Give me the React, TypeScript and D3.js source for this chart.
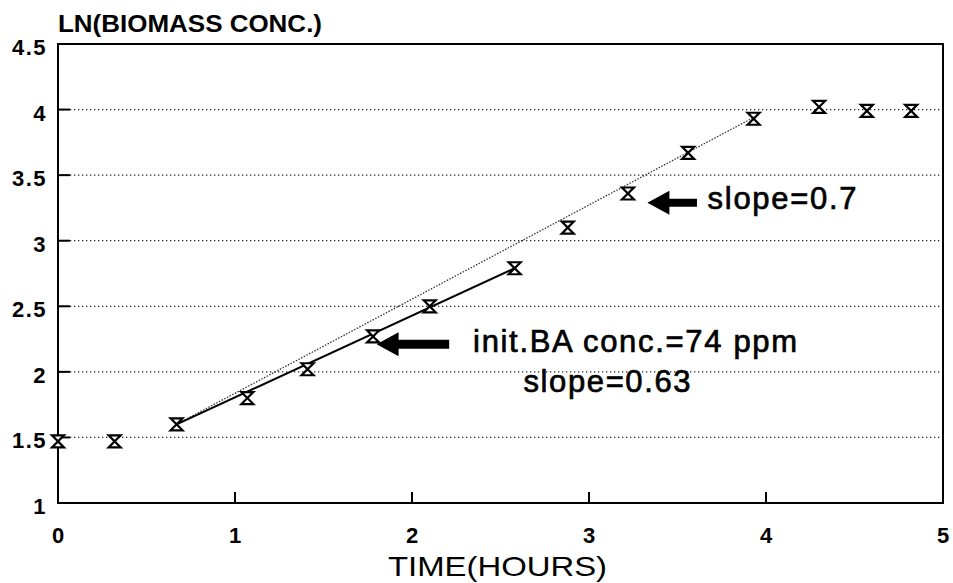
import React, { useEffect, useRef } from "react";
import * as d3 from "d3";

// measured points: time (hours) vs ln(biomass conc.)
const timeHours = [0, 0.32, 0.67, 1.07, 1.41, 1.78, 2.1, 2.58, 2.88, 3.22, 3.56, 3.93, 4.3, 4.57, 4.82];
const lnBiomass = [1.47, 1.47, 1.6, 1.8, 2.02, 2.27, 2.5, 2.79, 3.1, 3.36, 3.67, 3.93, 4.02, 3.99, 3.99];

// fitted lines (solid: slope 0.63, dotted: slope 0.7)
const fitSolidX = [0.67, 2.58];
const fitSolidY = [1.6, 2.79];
const fitDottedX = [0.67, 3.93];
const fitDottedY = [1.6, 3.94];

const xTicks = [0, 1, 2, 3, 4, 5];
const yTicks = [1, 1.5, 2, 2.5, 3, 3.5, 4, 4.5];
const yTickLabels = ["1", "1.5", "2", "2.5", "3", "3.5", "4", "4.5"];
const gridValues = [1.5, 2, 2.5, 3, 3.5, 4];

export default function App() {
  const ref = useRef<SVGSVGElement>(null);

  useEffect(() => {
    const svg = d3.select(ref.current);
    svg.selectAll("*").remove(); //clear previous render

    const width = 953;
    const height = 583;
    const left = 58, right = 943, top = 44, bottom = 503;

    const x = d3.scaleLinear().domain([0, 5]).range([left, right]);
    const y = d3.scaleLinear().domain([1, 4.5]).range([bottom, top]);

    svg.append("rect").attr("width", width).attr("height", height).attr("fill", "#fff");

    const font = "Arial, 'Liberation Sans', Helvetica, sans-serif";

    // dotted gridlines
    svg.append("g")
      .selectAll("line")
      .data(gridValues)
      .join("line")
      .attr("x1", left)
      .attr("x2", right)
      .attr("y1", d => y(d))
      .attr("y2", d => y(d))
      .attr("stroke", "#222")
      .attr("stroke-width", 1.3)
      .attr("stroke-dasharray", "1.3,2.7");

    // y ticks (inward)
    svg.append("g")
      .selectAll("line")
      .data(gridValues)
      .join("line")
      .attr("x1", left)
      .attr("x2", left + 12)
      .attr("y1", d => y(d))
      .attr("y2", d => y(d))
      .attr("stroke", "#000")
      .attr("stroke-width", 2);

    // x ticks (inward)
    svg.append("g")
      .selectAll("line")
      .data(xTicks.slice(1, -1))
      .join("line")
      .attr("x1", d => x(d))
      .attr("x2", d => x(d))
      .attr("y1", bottom)
      .attr("y2", bottom - 11)
      .attr("stroke", "#000")
      .attr("stroke-width", 2);

    // frame
    svg.append("rect")
      .attr("x", left)
      .attr("y", top)
      .attr("width", right - left)
      .attr("height", bottom - top)
      .attr("fill", "none")
      .attr("stroke", "#000")
      .attr("stroke-width", 2);

    // tick labels
    svg.append("g")
      .selectAll("text")
      .data(yTicks)
      .join("text")
      .attr("x", 47)
      .attr("y", d => y(d) + 11)
      .attr("text-anchor", "end")
      .attr("font-family", font)
      .attr("font-weight", "bold")
      .attr("font-size", 22)
      .attr("letter-spacing", 1.5)
      .text((d, i) => yTickLabels[i]);

    svg.append("g")
      .selectAll("text")
      .data(xTicks)
      .join("text")
      .attr("x", d => x(d))
      .attr("y", 543)
      .attr("text-anchor", "middle")
      .attr("font-family", font)
      .attr("font-weight", "bold")
      .attr("font-size", 22)
      .text(d => String(d));

    // axis titles
    svg.append("text")
      .attr("x", left)
      .attr("y", 32)
      .attr("font-family", font)
      .attr("font-weight", "bold")
      .attr("font-size", 23)
      .attr("textLength", 264)
      .attr("lengthAdjust", "spacingAndGlyphs")
      .text("LN(BIOMASS CONC.)");

    svg.append("text")
      .attr("x", 388)
      .attr("y", 576)
      .attr("font-family", font)
      .attr("font-size", 28)
      .attr("textLength", 219)
      .attr("lengthAdjust", "spacingAndGlyphs")
      .text("TIME(HOURS)");

    // dotted fit line
    svg.append("path")
      .attr("d", d3.line<number>().x(d => x(d)).y((d, i) => y(fitDottedY[i]))(fitDottedX))
      .attr("fill", "none")
      .attr("stroke", "#333")
      .attr("stroke-width", 1.3)
      .attr("stroke-dasharray", "1.5,1.5");

    // solid fit line
    svg.append("path")
      .attr("d", d3.line<number>().x(d => x(d)).y((d, i) => y(fitSolidY[i]))(fitSolidX))
      .attr("fill", "none")
      .attr("stroke", "#000")
      .attr("stroke-width", 2);

    // hourglass markers
    const s = 6;
    svg.append("g")
      .selectAll("path")
      .data(timeHours)
      .join("path")
      .attr("transform", (d, i) => `translate(${x(d)},${y(lnBiomass[i])})`)
      .attr("d", `M${-s},${-s}H${s}L${-s},${s}H${s}Z`)
      .attr("fill", "#fff")
      .attr("stroke", "#000")
      .attr("stroke-width", 2.2)
      .attr("stroke-linejoin", "miter");

    // arrows
    const arrow = (tipX: number, tailX: number, yv: number, shaft: number) => {
      const tx = x(tipX), ex = x(tailX), cy = y(yv);
      const headLen = 22, headHalf = 12, sh = shaft / 2;
      svg.append("path")
        .attr("d", `M${tx},${cy}L${tx + headLen},${cy - headHalf}L${tx + headLen},${cy - sh}L${ex},${cy - sh}L${ex},${cy + sh}L${tx + headLen},${cy + sh}L${tx + headLen},${cy + headHalf}Z`)
        .attr("fill", "#000");
    };
    arrow(3.33, 3.61, 3.29, 8);
    arrow(1.8, 2.21, 2.21, 9);

    // annotations
    const note = (tx: number, ty: number, str: string, len: number) => {
      svg.append("text")
        .attr("x", x(tx))
        .attr("y", y(ty))
        .attr("font-family", font)
        .attr("font-size", 31)
        .attr("stroke", "#000")
        .attr("stroke-width", 0.7)
        .attr("textLength", len)
        .attr("lengthAdjust", "spacing")
        .text(str);
    };
    note(3.67, 3.24, "slope=0.7", 149);
    note(2.345, 2.155, "init.BA conc.=74 ppm", 324);
    note(2.63, 1.85, "slope=0.63", 167);
  }, []);

  return (
    <svg
      ref={ref}
      width={953}
      height={583}
      style={{ position: "absolute", left: 0, top: 0, display: "block" }}
    ></svg>
  );
}
